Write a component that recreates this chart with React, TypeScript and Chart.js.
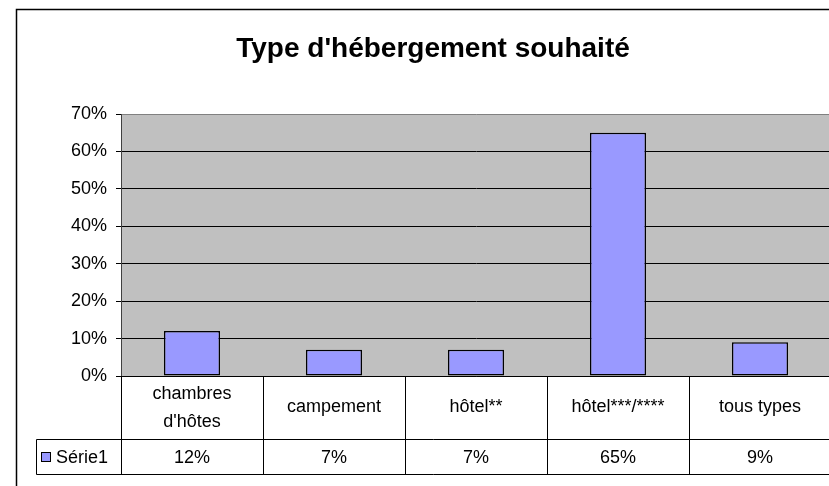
import { useEffect, useRef } from "react";
import { Chart, registerables } from "chart.js";

Chart.register(...registerables);

const titleText = "Type d'hébergement souhaité";
const categories: (string | string[])[] = [["chambres", "d'hôtes"], "campement", "hôtel**", "hôtel***/****", "tous types"];
const seriesName = "Série1";
const values = [0.12, 0.07, 0.07, 0.65, 0.09];
const valueLabels = ["12%", "7%", "7%", "65%", "9%"];
const yMax = 0.7;
const yStep = 0.1;

const FONT = "'Liberation Sans', Arial, sans-serif";
const W = 860;
const H = 486;

const framePlugin = {
  id: "frame",
  beforeDraw(chart: any) {
    const { ctx, chartArea: ca } = chart;
    ctx.save();
    ctx.fillStyle = "#ffffff";
    ctx.fillRect(0, 0, W, H);
    ctx.strokeStyle = "#000";
    ctx.lineWidth = 1.5;
    ctx.beginPath();
    ctx.moveTo(16.5, H + 5);
    ctx.lineTo(16.5, 9.5);
    ctx.lineTo(W - 10, 9.5);
    ctx.stroke();
    ctx.fillStyle = "#c0c0c0";
    ctx.fillRect(ca.left, ca.top, ca.right - ca.left, ca.bottom - ca.top);
    ctx.restore();
  },
  afterDraw(chart: any) {
    const { ctx, chartArea: ca } = chart;
    ctx.save();
    // title
    ctx.fillStyle = "#000";
    ctx.font = `bold 28px ${FONT}`;
    ctx.textAlign = "center";
    ctx.textBaseline = "alphabetic";
    ctx.fillText(titleText, 433, 57);

    // data table
    const n = categories.length;
    const colW = (ca.right - ca.left) / n;
    const yTop = ca.bottom;
    const yMid = ca.bottom + 63;
    const yBot = ca.bottom + 98;
    const legendLeft = 36.5;
    ctx.strokeStyle = "#000";
    ctx.lineWidth = 1;
    ctx.beginPath();
    ctx.moveTo(legendLeft, Math.round(yMid) + 0.5);
    ctx.lineTo(ca.right, Math.round(yMid) + 0.5);
    ctx.moveTo(legendLeft, Math.round(yBot) + 0.5);
    ctx.lineTo(ca.right, Math.round(yBot) + 0.5);
    ctx.moveTo(legendLeft, Math.round(yMid) + 0.5);
    ctx.lineTo(legendLeft, Math.round(yBot) + 0.5);
    for (let i = 0; i <= n; i++) {
      const xx = Math.round(ca.left + i * colW) + 0.5;
      ctx.moveTo(xx, yTop);
      ctx.lineTo(xx, Math.round(yBot) + 0.5);
    }
    ctx.stroke();

    ctx.font = `18px ${FONT}`;
    ctx.fillStyle = "#000";
    ctx.textAlign = "center";
    const xs = chart.scales.x;
    categories.forEach((c, i) => {
      const cx = xs.getPixelForValue(i);
      if (Array.isArray(c)) {
        ctx.fillText(c[0], cx, yTop + 23);
        ctx.fillText(c[1], cx, yTop + 51);
      } else {
        ctx.fillText(c, cx, yTop + 36);
      }
      ctx.fillText(valueLabels[i], cx, yMid + 24);
    });
    // legend key
    ctx.fillStyle = "#9999ff";
    ctx.fillRect(41.5, yMid + 13.5, 9, 9);
    ctx.strokeStyle = "#000";
    ctx.strokeRect(41.5, yMid + 13.5, 9, 9);
    ctx.fillStyle = "#000";
    ctx.textAlign = "left";
    ctx.fillText(seriesName, 56, yMid + 24);
    ctx.restore();
  },
};

export default function App() {
  const ref = useRef<HTMLCanvasElement>(null);
  useEffect(() => {
    if (!ref.current) return;
    const chart = new Chart(ref.current, {
      type: "bar",
      data: {
        labels: categories,
        datasets: [
          {
            label: seriesName,
            data: values,
            backgroundColor: "#9999ff",
            borderColor: "#000",
            borderWidth: 1.5,
            borderSkipped: false,
            categoryPercentage: 1,
            barPercentage: 0.395,
          },
        ],
      },
      options: {
        responsive: false,
        animation: false,
        devicePixelRatio: 1,
        layout: { padding: { top: 114, bottom: 110, left: 0, right: W - 831 } },
        plugins: { legend: { display: false }, title: { display: false }, tooltip: { enabled: false } },
        scales: {
          x: {
            grid: { display: false },
            ticks: { display: false },
            border: { display: true, color: "#000", width: 1 },
            afterFit: (s: any) => {
              s.height = 0;
            },
          },
          y: {
            min: 0,
            max: yMax,
            ticks: {
              stepSize: yStep,
              padding: 9,
              color: "#000",
              font: { family: FONT, size: 18 },
              callback: (v: any) => `${Math.round(Number(v) * 100)}%`,
            },
            grid: {
              color: (c: any) => (c.tick && Math.abs(c.tick.value - yMax) < 1e-9 ? "#808080" : "#000"),
              tickColor: "#000",
              tickLength: 5,
              lineWidth: 1,
            },
            border: { display: true, color: "#404040", width: 1 },
            afterFit: (s: any) => {
              s.width = 121;
            },
          },
        },
      },
      plugins: [framePlugin],
    });
    return () => chart.destroy();
  }, []);
  return (
    <div style={{ position: "fixed", left: 0, top: 0, width: 829, height: 486, overflow: "hidden", background: "#fff" }}>
      <canvas ref={ref} width={W} height={H} style={{ width: W, height: H, display: "block" }} />
    </div>
  );
}
